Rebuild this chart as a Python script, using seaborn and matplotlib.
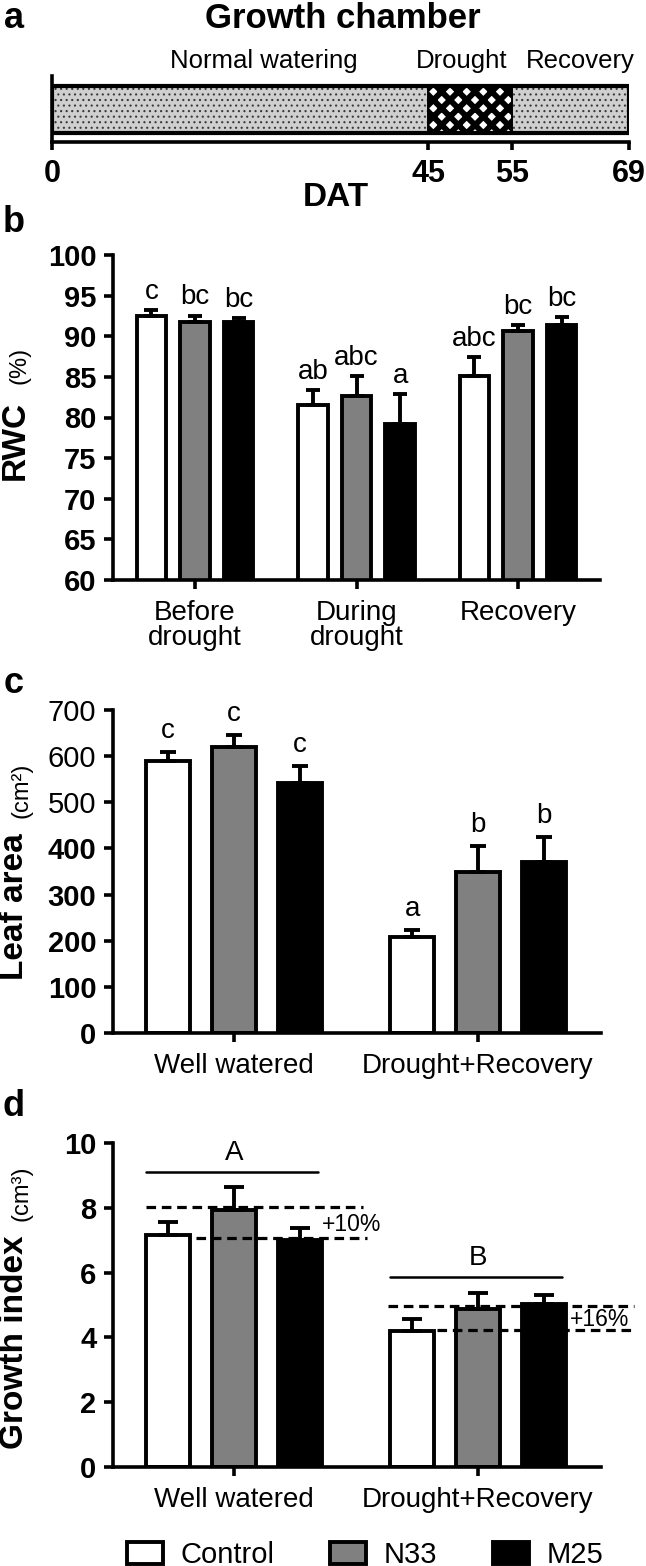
import numpy as np
import pandas as pd
import matplotlib
matplotlib.use("Agg")
import matplotlib.pyplot as plt
from matplotlib.patches import Patch
import seaborn as sns

# ---- dados ----
# a) cronograma da camara de crescimento
fases = ["Normal watering", "Drought", "Recovery"]
fase_inicio = [0, 45, 55]
fase_fim = [45, 55, 69]
dat_ticks = [0, 45, 55, 69]

tratamentos = ["Control", "N33", "M25"]
cores = ["white", "#808080", "black"]

# b) RWC (%)
rwc_periodos = ["Before\ndrought", "During\ndrought", "Recovery"]
rwc_control = [92.55, 81.55, 85.15]
rwc_n33 = [91.8, 82.6, 90.65]
rwc_m25 = [91.7, 79.2, 91.4]
rwc_ep_control = [0.7, 1.85, 2.25]
rwc_ep_n33 = [0.75, 2.45, 0.75]
rwc_ep_m25 = [0.55, 3.7, 1.0]
rwc_letras_control = ["c", "ab", "abc"]
rwc_letras_n33 = ["bc", "abc", "bc"]
rwc_letras_m25 = ["bc", "a", "bc"]

# c) area foliar (cm2)
condicoes = ["Well watered", "Drought+Recovery"]
area_control = [589, 207]
area_n33 = [620, 350]
area_m25 = [542, 371]
area_ep_control = [20, 17]
area_ep_n33 = [26, 56]
area_ep_m25 = [36, 53]
area_letras_control = ["c", "a"]
area_letras_n33 = ["c", "b"]
area_letras_m25 = ["c", "b"]

# d) indice de crescimento (cm3)
gi_control = [7.17, 4.21]
gi_n33 = [7.94, 4.89]
gi_m25 = [7.02, 5.04]
gi_ep_control = [0.40, 0.37]
gi_ep_n33 = [0.71, 0.49]
gi_ep_m25 = [0.37, 0.28]
gi_letras_grupo = ["A", "B"]
gi_linha_grupo = [9.1, 5.86]
gi_ganho = ["+10%", "+16%"]
gi_ref_ww = [8.02, 7.08]   # linhas tracejadas (superior, inferior)
gi_ref_dr = [4.97, 4.22]

# ---- estilo ----
sns.set_style("ticks")
plt.rcParams["font.family"] = ["Liberation Sans", "DejaVu Sans"]
plt.rcParams.update({"axes.linewidth": 2.6, "text.color": "black", "axes.edgecolor": "black",
                     "xtick.color": "black", "ytick.color": "black", "axes.labelcolor": "black"})

W, H = 646, 1566
fig = plt.figure(figsize=(W / 100, H / 100), dpi=100)


def fx(px):
    return px / W


def fy(py):
    return 1 - py / H


def tabela(grupos, medias, eps, letras):
    linhas = []
    for t, med, ep, le in zip(tratamentos, medias, eps, letras):
        for g, m, e, l in zip(grupos, med, ep, le):
            linhas.append({"grupo": g, "tratamento": t, "valor": m, "ep": e, "letra": l})
    return pd.DataFrame(linhas)


def painel_barras(ax, df, grupos, offset_letra=8, cap=6):
    sns.barplot(data=df, x="grupo", y="valor", hue="tratamento", order=grupos,
                hue_order=tratamentos, palette=cores, saturation=1, errorbar=None,
                width=0.81, gap=0.33, edgecolor="black", linewidth=2.8,
                legend=False, ax=ax)
    # posicoes das barras a partir do proprio eixo
    barras = {}
    for p in ax.patches:
        xc = p.get_x() + p.get_width() / 2
        barras.setdefault(int(round(xc)), []).append(xc)
    xs, ys, es, ls = [], [], [], []
    for gi, g in enumerate(grupos):
        for ti, xc in enumerate(sorted(barras[gi])):
            lin = df[(df.grupo == g) & (df.tratamento == tratamentos[ti])].iloc[0]
            xs.append(xc)
            ys.append(lin.valor)
            es.append(lin.ep)
            ls.append(lin.letra)
    xs, ys, es = np.array(xs), np.array(ys), np.array(es)
    ax.errorbar(xs, ys, yerr=[np.zeros_like(es), es], fmt="none", ecolor="black",
                elinewidth=2.8, capsize=cap, capthick=2.8, zorder=1)
    if offset_letra is not None:
        for x, y, e, l in zip(xs, ys, es, ls):
            if l:
                ax.annotate(l, (x, y + e), xytext=(0, offset_letra), textcoords="offset points",
                            ha="center", va="baseline", fontsize=20)
    ax.set_xlabel("")
    ax.set_ylabel("")
    sns.despine(ax=ax)
    ax.tick_params(axis="both", direction="out", width=2.6, length=6.5)
    ax.tick_params(axis="y", labelsize=21, pad=5.5)
    ax.tick_params(axis="x", labelsize=20, pad=8)
    for t in ax.get_yticklabels():
        t.set_fontweight("bold")
    for t in ax.get_xticklabels():
        t.set_linespacing(0.95)
    return xs, ys, es


# ---- a) cronograma ----
ax_a = fig.add_axes([fx(52), fy(142), fx(629) - fx(52), (142 - 76) / H])
estilos = [dict(facecolor="#cfcfcf", edgecolor="#3a3a3a", hatch="..."),
           dict(facecolor="white", edgecolor="black", hatch="xx"),
           dict(facecolor="#cfcfcf", edgecolor="#3a3a3a", hatch="...")]
for ini, fim, est, lw_h in zip(fase_inicio, fase_fim, estilos, [0.8, 4.2, 0.8]):
    with plt.rc_context({"hatch.linewidth": lw_h}):
        bar = ax_a.barh(0.49, fim - ini, left=ini, height=0.71, linewidth=0, **est)
    for p in bar:
        if hasattr(p, "set_hatch_linewidth"):
            p.set_hatch_linewidth(lw_h)
for ini, fim in zip(fase_inicio, fase_fim):
    ax_a.barh(0.49, fim - ini, left=ini, height=0.71, fill=False, edgecolor="black", linewidth=1.2)
ax_a.barh(0.49, fase_fim[-1] - fase_inicio[0], left=fase_inicio[0], height=0.71,
          fill=False, edgecolor="black", linewidth=3)
ax_a.set_xlim(0, 69)
ax_a.set_ylim(0, 1)
ax_a.set_yticks([])
ax_a.set_xticks(dat_ticks)
ax_a.tick_params(axis="x", direction="out", width=2.6, length=6, labelsize=22, pad=6)
for t in ax_a.get_xticklabels():
    t.set_fontweight("bold")
sns.despine(ax=ax_a)
for nome, xc in zip(fases, [264, 462, 580]):
    fig.text(fx(xc), fy(68), nome, ha="center", va="baseline", fontsize=18.5)
fig.text(fx(343), fy(19), "Growth chamber", ha="center", va="center", fontsize=25, fontweight="bold")
fig.text(fx(336), fy(197), "DAT", ha="center", va="center", fontsize=24, fontweight="bold")

# ---- b) RWC ----
ax_b = fig.add_axes([fx(113), fy(580), fx(600) - fx(113), 325 / H])
df_b = tabela(rwc_periodos, [rwc_control, rwc_n33, rwc_m25],
              [rwc_ep_control, rwc_ep_n33, rwc_ep_m25],
              [rwc_letras_control, rwc_letras_n33, rwc_letras_m25])
painel_barras(ax_b, df_b, rwc_periodos, offset_letra=8, cap=5)
ax_b.set_ylim(60, 100)
ax_b.set_yticks(range(60, 101, 5))
ax_b.set_xlim(-0.508, 2.508)

# ---- c) area foliar ----
ax_c = fig.add_axes([fx(113), fy(1033), fx(601) - fx(113), 323 / H])
df_c = tabela(condicoes, [area_control, area_n33, area_m25],
              [area_ep_control, area_ep_n33, area_ep_m25],
              [area_letras_control, area_letras_n33, area_letras_m25])
painel_barras(ax_c, df_c, condicoes, offset_letra=10, cap=6)
ax_c.set_ylim(0, 700)
ax_c.set_yticks(range(0, 701, 100))
ax_c.set_xlim(-0.496, 1.504)

# ---- d) indice de crescimento ----
ax_d = fig.add_axes([fx(113), fy(1467), fx(601) - fx(113), 324 / H])
df_d = tabela(condicoes, [gi_control, gi_n33, gi_m25],
              [gi_ep_control, gi_ep_n33, gi_ep_m25],
              [["", ""], ["", ""], ["", ""]])
xs, ys, es = painel_barras(ax_d, df_d, condicoes, offset_letra=None, cap=7.5)
ax_d.set_ylim(0, 10)
ax_d.set_yticks(range(0, 11, 2))
ax_d.set_xlim(-0.496, 1.504)

# linhas de grupo A / B
for gi, (letra, yl) in enumerate(zip(gi_letras_grupo, gi_linha_grupo)):
    ax_d.plot([gi - 0.36, gi + 0.346], [yl, yl], color="black", lw=1.8)
    ax_d.annotate(letra, (gi, yl), xytext=(0, 9), textcoords="offset points",
                  ha="center", va="baseline", fontsize=20)

# linhas tracejadas de ganho
dash = dict(color="black", lw=2.3, ls=(0, (3, 1.8)), clip_on=False, zorder=5)
ax_d.plot([xs[0] - 0.09, 0.53], [gi_ref_ww[0]] * 2, **dash)
ax_d.plot([xs[0] + 0.114, 0.545], [gi_ref_ww[1]] * 2, **dash)
ax_d.plot([xs[3] - 0.1, 1.64], [gi_ref_dr[0]] * 2, **dash)
ax_d.plot([xs[3] + 0.1, 1.64], [gi_ref_dr[1]] * 2, **dash)
ax_d.text(0.48, 7.47, gi_ganho[0], ha="center", va="center", fontsize=16.5, clip_on=False)
ax_d.text(1.5, 4.56, gi_ganho[1], ha="center", va="center", fontsize=16.5, clip_on=False)

# ---- rotulos dos eixos y ----
fig.text(fx(15), fy(440), "RWC", rotation=90, ha="center", va="center", fontsize=24, fontweight="bold")
fig.text(fx(20), fy(365), "(%)", rotation=90, ha="center", va="center", fontsize=17)
fig.text(fx(15), fy(907), "Leaf area", rotation=90, ha="center", va="center", fontsize=24, fontweight="bold")
fig.text(fx(21), fy(790), "(cm²)", rotation=90, ha="center", va="center", fontsize=17)
fig.text(fx(15), fy(1342), "Growth index", rotation=90, ha="center", va="center", fontsize=24, fontweight="bold")
fig.text(fx(21), fy(1193), "(cm³)", rotation=90, ha="center", va="center", fontsize=17)

# letras dos paineis
for letra, py in zip(["a", "b", "c", "d"], [19, 222, 683, 1106]):
    fig.text(fx(14), fy(py), letra, ha="center", va="center", fontsize=26, fontweight="bold")

# ---- legenda ----
handles = [Patch(facecolor=c, edgecolor="black", linewidth=2.8) for c in cores]
fig.legend(handles, tratamentos, loc="center", bbox_to_anchor=(fx(365), fy(1555)), ncol=3,
           frameon=False, fontsize=21, handlelength=1.24, handleheight=0.8,
           handletextpad=0.6, columnspacing=1.9, borderpad=0, borderaxespad=0)

fig.savefig("out.png", dpi=100)
